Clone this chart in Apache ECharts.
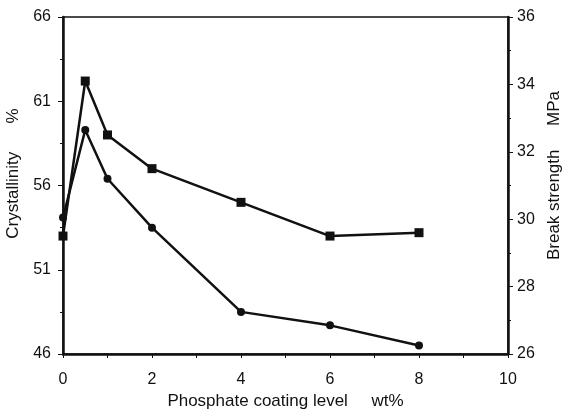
<!DOCTYPE html>
<html>
<head>
<meta charset="utf-8">
<script src="https://cdn.jsdelivr.net/npm/echarts@6/dist/echarts.min.js"></script>
<style>
  html, body { margin: 0; padding: 0; background: #fff; }
  #chart { width: 565px; height: 409px; }
</style>
</head>
<body>
<div id="chart"></div>
<script>
const coating = [0, 0.5, 1, 2, 4, 6, 8];
const crystallinity = [54.1, 59.3, 56.4, 53.5, 48.5, 47.7, 46.5];
const breakStrength = [29.5, 34.1, 32.5, 31.5, 30.5, 29.5, 29.6];

const font = 'Liberation Sans';
const ink = '#111';

const chart = echarts.init(document.getElementById('chart'));

chart.setOption({
  animation: false,
  grid: {
    left: 63, right: 57, top: 17, bottom: 55,
    outerBoundsMode: 'none',
    show: true, borderColor: ink, borderWidth: 1.5
  },
  xAxis: {
    type: 'value',
    min: 0, max: 10, interval: 2,
    name: 'Phosphate coating level     wt%',
    nameLocation: 'middle',
    nameGap: 35,
    nameTextStyle: { fontFamily: font, fontSize: 17, color: ink },
    axisLine: { lineStyle: { color: ink, width: 2.5 } },
    axisTick: { length: 4, lineStyle: { color: ink, width: 1 } },
    minorTick: { show: true, splitNumber: 2, length: 4, lineStyle: { color: ink } },
    axisLabel: { fontFamily: font, fontSize: 16, color: ink, margin: 18 },
    splitLine: { show: false }
  },
  yAxis: [{
    type: 'value',
    min: 46, max: 66, interval: 5,
    name: 'Crystallinity      %',
    nameLocation: 'middle',
    nameRotate: 90,
    nameGap: 38,
    nameTextStyle: { fontFamily: font, fontSize: 17, color: ink, padding: [0, 0, 0, 24] },
    axisLine: { show: true, lineStyle: { color: ink, width: 2.5 } },
    axisTick: { length: 5, lineStyle: { color: ink } },
    minorTick: { show: true, splitNumber: 2, length: 3, lineStyle: { color: ink } },
    axisLabel: { fontFamily: font, fontSize: 16, color: ink, margin: 12 },
    splitLine: { show: false }
  }, {
    type: 'value',
    position: 'right',
    min: 26, max: 36, interval: 2,
    name: 'Break strength     MPa',
    nameLocation: 'middle',
    nameRotate: 90,
    nameGap: 36,
    nameTextStyle: { fontFamily: font, fontSize: 17, color: ink, padding: [0, 0, 0, 20] },
    axisLine: { show: true, lineStyle: { color: ink, width: 2.5 } },
    axisTick: { length: 5, lineStyle: { color: ink } },
    minorTick: { show: true, splitNumber: 2, length: 3, lineStyle: { color: ink } },
    axisLabel: { fontFamily: font, fontSize: 16, color: ink, margin: 9 },
    splitLine: { show: false }
  }],
  series: [{
    name: 'Crystallinity',
    type: 'line',
    yAxisIndex: 0,
    data: coating.map((x, i) => [x, crystallinity[i]]),
    symbol: 'circle',
    symbolSize: 8,
    lineStyle: { color: ink, width: 2.5 },
    itemStyle: { color: ink }
  }, {
    name: 'Break strength',
    type: 'line',
    yAxisIndex: 1,
    data: coating.map((x, i) => [x, breakStrength[i]]),
    symbol: 'rect',
    symbolSize: 9,
    lineStyle: { color: ink, width: 2.5 },
    itemStyle: { color: ink }
  }]
});
</script>
</body>
</html>
